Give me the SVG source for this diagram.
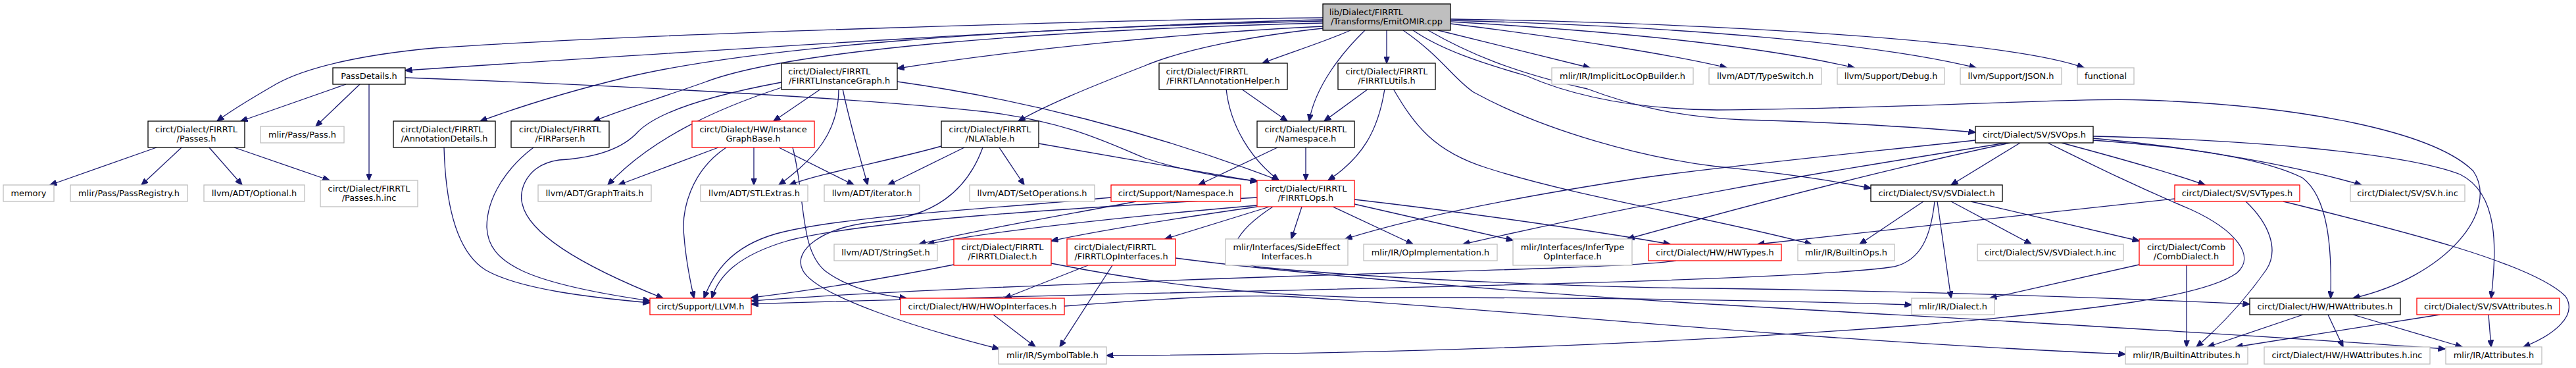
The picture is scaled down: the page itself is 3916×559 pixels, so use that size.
<svg xmlns="http://www.w3.org/2000/svg" width="3916" height="559" viewBox="0 0 3916 559">
<defs>
<marker id="a" viewBox="0 0 11 9" refX="10.5" refY="4.5" markerWidth="11" markerHeight="9" markerUnits="userSpaceOnUse" orient="auto"><path d="M0,0 L11,4.5 L0,9 z" fill="#191970" stroke="#191970" stroke-width="1"/></marker>
</defs>
<style>
text{font-family:"DejaVu Sans",sans-serif;font-size:12.9px;fill:#000}
.m{text-anchor:middle}
rect{stroke-width:1.3;fill:#fff}
.k rect{stroke:#000}
.g rect{stroke:#bfbfbf}
.r rect{stroke:#ff0000}
#edges path{fill:none;stroke:#191970;stroke-width:1.3;marker-end:url(#a)}
</style>
<rect x="0" y="0" width="3916" height="559" fill="#fff" stroke="none"/>
<g id="edges">
<path d="M2011,30 C1700,36 1100,75 616,107"/>
<path d="M2011,27 C1700,30 1000,50 660,73 C560,82 470,100 421,127 C385,148 355,165 330,184"/>
<path d="M2011,32 C1550,42 1150,70 950,118 C860,140 790,162 730,184"/>
<path d="M2011,35 C1600,45 1200,75 1071,125 C1000,150 950,165 902,184"/>
<path d="M2011,40 C1800,50 1550,75 1364,104"/>
<path d="M2011,43 C1900,55 1800,75 1740,100 C1650,135 1590,160 1548,184"/>
<path d="M2053,46 C2010,65 1960,80 1919,96"/>
<path d="M2075,46 C2040,80 2000,130 1990,184"/>
<path d="M2108,46 L2108,96"/>
<path d="M2186,46 L2417,103"/>
<path d="M2205,36 C2400,60 2550,85 2625,103"/>
<path d="M2205,33 C2500,50 2700,75 2819,103"/>
<path d="M2205,31 C2550,40 2850,65 3004,103"/>
<path d="M2205,29 C2600,35 3050,60 3168,103"/>
<path d="M2171,46 C2230,80 2300,110 2413,135 C2480,160 2550,178 2650,182 C2800,186 2900,192 3003,201"/>
<path d="M2148,46 C2190,75 2250,95 2320,115 C2400,150 2500,166 2610,167 C2900,165 3150,148 3260,152 C3500,160 3700,200 3760,260 C3800,320 3720,420 3577,453"/>
<path d="M2133,46 C2190,85 2210,120 2240,140 C2350,200 2500,240 2610,253 C2700,262 2790,275 2844,286"/>
<path d="M526,128 L366,184"/>
<path d="M547,128 L480,192"/>
<path d="M561,128 L561,274"/>
<path d="M616,118 C900,128 1300,148 1500,170 C1620,185 1680,215 1740,240 C1800,260 1860,270 1912,275"/>
<path d="M238,224 L76,281"/>
<path d="M276,224 L215,281"/>
<path d="M318,224 L368,281"/>
<path d="M356,224 L501,274"/>
<path d="M675,224 C677,300 690,380 738,410 C790,440 900,452 988,460"/>
<path d="M811,224 C770,255 740,300 740,345 C742,400 800,430 988,457"/>
<path d="M1188,125 C1080,145 1000,170 970,200 C945,228 900,240 850,243 C800,250 788,290 794,310 C805,360 900,410 1008,453"/>
<path d="M1188,133 C1090,165 990,210 924,281"/>
<path d="M1248,135 L1176,184"/>
<path d="M1275,135 C1275,200 1240,240 1184,281"/>
<path d="M1281,135 C1290,180 1305,230 1319,281"/>
<path d="M1364,124 C1550,150 1750,200 1944,274"/>
<path d="M1092,224 L940,281"/>
<path d="M1104,224 C1050,260 1035,320 1040,360 C1043,400 1050,430 1055,453"/>
<path d="M1146,224 L1146,281"/>
<path d="M1184,224 L1298,281"/>
<path d="M1205,224 C1225,300 1215,380 1255,412 C1290,438 1335,448 1378,453"/>
<path d="M1431,222 C1350,245 1250,262 1200,281"/>
<path d="M1466,224 L1350,281"/>
<path d="M1494,224 C1470,290 1420,330 1330,337 C1250,345 1205,380 1220,410 C1240,450 1400,500 1519,530"/>
<path d="M1519,224 L1557,281"/>
<path d="M1579,218 C1700,240 1820,260 1911,276"/>
<path d="M1864,135 C1870,190 1900,240 1944,274"/>
<path d="M1887,135 L1957,184"/>
<path d="M2080,135 L2013,184"/>
<path d="M2105,135 C2095,200 2070,240 2019,274"/>
<path d="M2118,135 C2150,190 2180,230 2260,255 C2400,300 2600,330 2754,371"/>
<path d="M1942,224 L1822,281"/>
<path d="M1985,224 L1985,274"/>
<path d="M1727,306 C1600,330 1480,350 1397,371"/>
<path d="M1689,300 C1500,318 1280,328 1180,355 C1110,375 1085,415 1070,453"/>
<path d="M1911,312 C1700,330 1500,352 1410,371"/>
<path d="M1911,314 C1800,330 1680,348 1598,366"/>
<path d="M1930,314 L1771,363"/>
<path d="M1979,314 L1963,363"/>
<path d="M2026,314 L2148,371"/>
<path d="M2059,310 L2300,365"/>
<path d="M2059,303 C2250,325 2450,355 2539,371"/>
<path d="M1935,314 C1880,350 1850,392 1910,405 C2100,425 2450,437 2600,438 C2900,442 3200,452 3420,462"/>
<path d="M1911,300 C1600,318 1320,335 1200,365 C1120,388 1092,420 1082,453"/>
<path d="M3071,217 L2966,281"/>
<path d="M3003,213 C2800,235 2600,255 2497,270 C2300,300 2150,330 2045,363"/>
<path d="M3049,217 C2850,250 2600,285 2224,371"/>
<path d="M3056,217 C2900,250 2700,300 2474,363"/>
<path d="M3113,217 C3180,250 3240,280 3330,318 C3400,350 3430,390 3400,415 C3350,450 3200,470 2900,495 C2500,525 2100,538 1682,540"/>
<path d="M3134,217 C3220,240 3300,262 3352,281"/>
<path d="M3182,210 C3350,225 3500,255 3590,281"/>
<path d="M3182,213 C3350,225 3450,245 3500,270 C3540,300 3545,380 3543,453"/>
<path d="M3182,207 C3400,212 3650,230 3740,265 C3800,295 3795,380 3787,453"/>
<path d="M2924,306 L2827,371"/>
<path d="M2966,306 L3088,371"/>
<path d="M2945,306 L2966,453"/>
<path d="M2996,306 L3252,366"/>
<path d="M2941,306 C2935,360 2920,395 2880,405 C2700,432 1800,440 1142,462"/>
<path d="M3306,302 C3100,325 2850,350 2672,371"/>
<path d="M3414,306 C3450,340 3465,380 3445,410 C3410,460 3370,500 3339,527"/>
<path d="M3471,306 C3650,350 3850,400 3900,450 C3920,480 3880,510 3836,527"/>
<path d="M3324,403 L3324,527"/>
<path d="M3252,402 L3025,453"/>
<path d="M3501,478 L3356,527"/>
<path d="M3539,478 L3562,527"/>
<path d="M3577,478 L3743,527"/>
<path d="M3709,478 L3399,527"/>
<path d="M3783,478 L3787,527"/>
<path d="M1450,402 C1350,422 1230,442 1142,452"/>
<path d="M1598,400 C1750,430 1900,450 2100,452 C2500,452 2750,458 2906,463"/>
<path d="M1654,403 L1527,453"/>
<path d="M1691,403 L1611,527"/>
<path d="M1787,392 C2000,420 2400,450 2600,462 C2900,480 3300,500 3717,530"/>
<path d="M1510,478 L1574,527"/>
<path d="M1618,465 C1750,455 1850,448 1950,450 C2300,470 2700,515 3231,538"/>
<path d="M2548,396 C2480,406 2200,412 1950,420 C1600,432 1300,445 1142,457"/>
</g>
<g id="root" class="k"><rect x="2011" y="6" width="194" height="40" style="fill:#bfbfbf"/><text x="2020.7" y="22.5">lib/Dialect/FIRRTL</text><text class="m" x="2108" y="36.5">/Transforms/EmitOMIR.cpp</text></g>
<g id="passdetails" class="k"><rect x="506" y="103" width="110" height="25"/><text class="m" x="561" y="120">PassDetails.h</text></g>
<g id="ig" class="k"><rect x="1188" y="96" width="176" height="40"/><text x="1198.3" y="112.5">circt/Dialect/FIRRTL</text><text class="m" x="1276" y="126.5">/FIRRTLInstanceGraph.h</text></g>
<g id="annothelper" class="k"><rect x="1762" y="96" width="195" height="40"/><text x="1772.4" y="112.5">circt/Dialect/FIRRTL</text><text class="m" x="1859.5" y="126.5">/FIRRTLAnnotationHelper.h</text></g>
<g id="utils" class="k"><rect x="2034" y="96" width="148" height="40"/><text class="m" x="2108" y="112.5">circt/Dialect/FIRRTL</text><text class="m" x="2108" y="126.5">/FIRRTLUtils.h</text></g>
<g id="implicitloc" class="g"><rect x="2359" y="103" width="215" height="25"/><text class="m" x="2466.5" y="120">mlir/IR/ImplicitLocOpBuilder.h</text></g>
<g id="typeswitch" class="g"><rect x="2598" y="103" width="171" height="25"/><text class="m" x="2683.5" y="120">llvm/ADT/TypeSwitch.h</text></g>
<g id="debug" class="g"><rect x="2793" y="103" width="163" height="25"/><text class="m" x="2874.5" y="120">llvm/Support/Debug.h</text></g>
<g id="json" class="g"><rect x="2980" y="103" width="154" height="25"/><text class="m" x="3057" y="120">llvm/Support/JSON.h</text></g>
<g id="functional" class="g"><rect x="3158" y="103" width="86" height="25"/><text class="m" x="3201" y="120">functional</text></g>
<g id="passes" class="k"><rect x="225" y="184" width="147" height="40"/><text class="m" x="298.5" y="200.5">circt/Dialect/FIRRTL</text><text class="m" x="298.5" y="214.5">/Passes.h</text></g>
<g id="pass" class="g"><rect x="396" y="192" width="127" height="25"/><text class="m" x="459.5" y="209">mlir/Pass/Pass.h</text></g>
<g id="annotdetails" class="k"><rect x="598" y="184" width="155" height="40"/><text x="609.5" y="200.5">circt/Dialect/FIRRTL</text><text class="m" x="675.5" y="214.5">/AnnotationDetails.h</text></g>
<g id="firparser" class="k"><rect x="777" y="184" width="149" height="40"/><text class="m" x="851.5" y="200.5">circt/Dialect/FIRRTL</text><text class="m" x="851.5" y="214.5">/FIRParser.h</text></g>
<g id="igb" class="r"><rect x="1052" y="184" width="186" height="40"/><text class="m" x="1145" y="200.5">circt/Dialect/HW/Instance</text><text class="m" x="1145" y="214.5">GraphBase.h</text></g>
<g id="nlatable" class="k"><rect x="1431" y="184" width="148" height="40"/><text class="m" x="1505" y="200.5">circt/Dialect/FIRRTL</text><text class="m" x="1505" y="214.5">/NLATable.h</text></g>
<g id="namespace" class="k"><rect x="1911" y="184" width="148" height="40"/><text class="m" x="1985" y="200.5">circt/Dialect/FIRRTL</text><text class="m" x="1985" y="214.5">/Namespace.h</text></g>
<g id="svops" class="k"><rect x="3003" y="192" width="179" height="25"/><text class="m" x="3092.5" y="209">circt/Dialect/SV/SVOps.h</text></g>
<g id="memory" class="g"><rect x="5" y="281" width="77" height="25"/><text class="m" x="43.5" y="298">memory</text></g>
<g id="passregistry" class="g"><rect x="107" y="281" width="178" height="25"/><text class="m" x="196" y="298">mlir/Pass/PassRegistry.h</text></g>
<g id="optional" class="g"><rect x="310" y="281" width="153" height="25"/><text class="m" x="386.5" y="298">llvm/ADT/Optional.h</text></g>
<g id="passesinc" class="g"><rect x="487" y="274" width="148" height="40"/><text class="m" x="561" y="290.5">circt/Dialect/FIRRTL</text><text class="m" x="561" y="304.5">/Passes.h.inc</text></g>
<g id="graphtraits" class="g"><rect x="818" y="281" width="172" height="25"/><text class="m" x="904" y="298">llvm/ADT/GraphTraits.h</text></g>
<g id="stlextras" class="g"><rect x="1065" y="281" width="163" height="25"/><text class="m" x="1146.5" y="298">llvm/ADT/STLExtras.h</text></g>
<g id="iterator" class="g"><rect x="1253" y="281" width="145" height="25"/><text class="m" x="1325.5" y="298">llvm/ADT/iterator.h</text></g>
<g id="setops" class="g"><rect x="1474" y="281" width="190" height="25"/><text class="m" x="1569" y="298">llvm/ADT/SetOperations.h</text></g>
<g id="supportns" class="r"><rect x="1689" y="281" width="197" height="25"/><text class="m" x="1787.5" y="298">circt/Support/Namespace.h</text></g>
<g id="firrtlops" class="r"><rect x="1911" y="274" width="148" height="40"/><text class="m" x="1985" y="290.5">circt/Dialect/FIRRTL</text><text class="m" x="1985" y="304.5">/FIRRTLOps.h</text></g>
<g id="svdialect" class="k"><rect x="2844" y="281" width="200" height="25"/><text class="m" x="2944" y="298">circt/Dialect/SV/SVDialect.h</text></g>
<g id="svtypes" class="r"><rect x="3306" y="281" width="190" height="25"/><text class="m" x="3401" y="298">circt/Dialect/SV/SVTypes.h</text></g>
<g id="svinc" class="g"><rect x="3573" y="281" width="174" height="25"/><text class="m" x="3660" y="298">circt/Dialect/SV/SV.h.inc</text></g>
<g id="stringset" class="g"><rect x="1268" y="371" width="157" height="25"/><text class="m" x="1346.5" y="388">llvm/ADT/StringSet.h</text></g>
<g id="firrtldialect" class="r"><rect x="1450" y="363" width="148" height="40"/><text class="m" x="1524" y="379.5">circt/Dialect/FIRRTL</text><text class="m" x="1524" y="393.5">/FIRRTLDialect.h</text></g>
<g id="opinterfaces" class="r"><rect x="1622" y="363" width="165" height="40"/><text x="1632.7" y="379.5">circt/Dialect/FIRRTL</text><text class="m" x="1704.5" y="393.5">/FIRRTLOpInterfaces.h</text></g>
<g id="sideeffect" class="g"><rect x="1863" y="363" width="186" height="40"/><text class="m" x="1956" y="379.5">mlir/Interfaces/SideEffect</text><text class="m" x="1956" y="393.5">Interfaces.h</text></g>
<g id="opimpl" class="g"><rect x="2073" y="371" width="203" height="25"/><text class="m" x="2174.5" y="388">mlir/IR/OpImplementation.h</text></g>
<g id="infertype" class="g"><rect x="2300" y="363" width="181" height="40"/><text class="m" x="2390.5" y="379.5">mlir/Interfaces/InferType</text><text class="m" x="2390.5" y="393.5">OpInterface.h</text></g>
<g id="hwtypes" class="r"><rect x="2506" y="371" width="202" height="25"/><text class="m" x="2607" y="388">circt/Dialect/HW/HWTypes.h</text></g>
<g id="builtinops" class="g"><rect x="2733" y="371" width="147" height="25"/><text class="m" x="2806.5" y="388">mlir/IR/BuiltinOps.h</text></g>
<g id="svdialectinc" class="g"><rect x="3006" y="371" width="222" height="25"/><text class="m" x="3117" y="388">circt/Dialect/SV/SVDialect.h.inc</text></g>
<g id="comb" class="r"><rect x="3252" y="363" width="143" height="40"/><text class="m" x="3323.5" y="379.5">circt/Dialect/Comb</text><text class="m" x="3323.5" y="393.5">/CombDialect.h</text></g>
<g id="llvm" class="r"><rect x="988" y="453" width="154" height="25"/><text class="m" x="1065" y="470">circt/Support/LLVM.h</text></g>
<g id="hwopinterfaces" class="r"><rect x="1369" y="453" width="249" height="25"/><text class="m" x="1493.5" y="470">circt/Dialect/HW/HWOpInterfaces.h</text></g>
<g id="dialect" class="g"><rect x="2906" y="453" width="126" height="25"/><text class="m" x="2969" y="470">mlir/IR/Dialect.h</text></g>
<g id="hwattributes" class="k"><rect x="3420" y="453" width="229" height="25"/><text class="m" x="3534.5" y="470">circt/Dialect/HW/HWAttributes.h</text></g>
<g id="svattributes" class="r"><rect x="3674" y="453" width="217" height="25"/><text class="m" x="3782.5" y="470">circt/Dialect/SV/SVAttributes.h</text></g>
<g id="symboltable" class="g"><rect x="1518" y="527" width="164" height="26"/><text class="m" x="1600" y="544">mlir/IR/SymbolTable.h</text></g>
<g id="builtinattrs" class="g"><rect x="3231" y="527" width="186" height="26"/><text class="m" x="3324" y="544">mlir/IR/BuiltinAttributes.h</text></g>
<g id="hwattrinc" class="g"><rect x="3442" y="527" width="252" height="26"/><text class="m" x="3568" y="544">circt/Dialect/HW/HWAttributes.h.inc</text></g>
<g id="attributes" class="g"><rect x="3718" y="527" width="146" height="26"/><text class="m" x="3791" y="544">mlir/IR/Attributes.h</text></g>
</svg>
